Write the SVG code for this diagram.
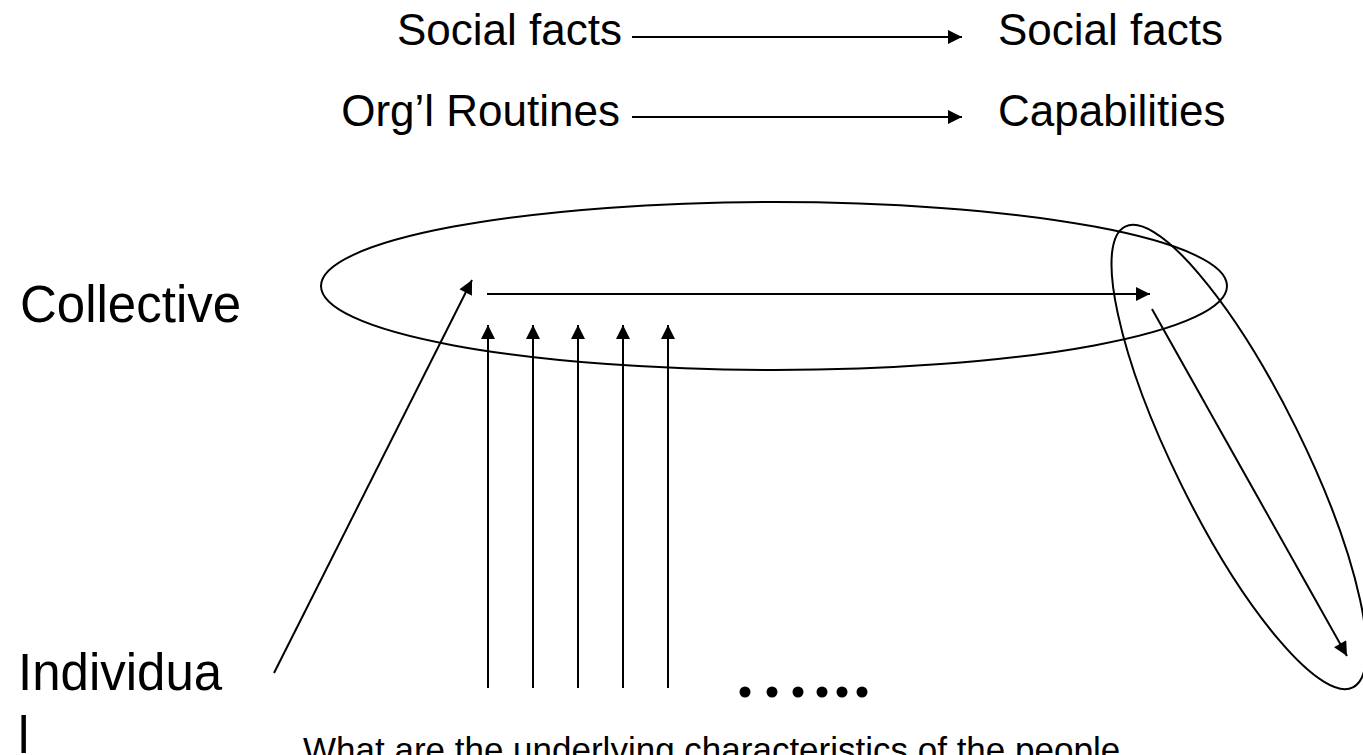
<svg xmlns="http://www.w3.org/2000/svg" width="1363" height="755" viewBox="0 0 1363 755">
<style>
text{font-family:"Liberation Sans",Arial,sans-serif;fill:#000}
.big{font-size:44px}
.lvl{font-size:51px}
.q{font-size:35px}
.c{stroke:#000;stroke-width:2;fill:none}
.a{stroke:#000;stroke-width:2;fill:none;marker-end:url(#ah)}
</style>
<defs>
<marker id="ah" viewBox="0 0 10 10" refX="10" refY="5" markerWidth="15" markerHeight="14" markerUnits="userSpaceOnUse" orient="auto">
<path d="M0,0 L10,5 L0,10 z" fill="#000"/>
</marker>
</defs>
<rect width="1363" height="755" fill="#fff"/>
<g id="labels">
<text class="big" x="622" y="45" text-anchor="end">Social facts</text>
<text class="big" x="998" y="45">Social facts</text>
<text class="big" x="620" y="126" text-anchor="end">Org’l Routines</text>
<text class="big" x="998" y="126">Capabilities</text>
<text class="lvl" x="20" y="322">Collective</text>
<text class="lvl" x="18" y="690">Individua</text>
<text class="lvl" x="18" y="753">l</text>
<text class="q" x="303" y="762">What are the underlying characteristics of the people</text>
</g>
<g id="collective-ellipse"><ellipse class="c" cx="774" cy="286" rx="453" ry="84"/></g>
<g id="right-ellipse"><ellipse class="c" cx="1239" cy="457" rx="257" ry="64" transform="rotate(63.7 1239 457)"/></g>
<g id="dots" fill="#000">
<circle cx="745" cy="692" r="5.5"/><circle cx="772" cy="692" r="5.5"/><circle cx="798" cy="692" r="5.5"/>
<circle cx="822" cy="692" r="5.5"/><circle cx="842" cy="692" r="5.5"/><circle cx="862" cy="692" r="5.5"/>
</g>
<g id="connectors">
<line class="a" x1="632" y1="37" x2="962" y2="37"/>
<line class="a" x1="632" y1="117" x2="962" y2="117"/>
<line class="a" x1="487" y1="294" x2="1150" y2="294"/>
<line class="a" x1="274" y1="673" x2="472" y2="280"/>
<line class="a" x1="1152" y1="309" x2="1347" y2="656"/>
<line class="a" x1="488" y1="688" x2="488" y2="325"/>
<line class="a" x1="533" y1="688" x2="533" y2="325"/>
<line class="a" x1="578" y1="688" x2="578" y2="325"/>
<line class="a" x1="623" y1="688" x2="623" y2="325"/>
<line class="a" x1="668" y1="688" x2="668" y2="325"/>
</g>
</svg>
